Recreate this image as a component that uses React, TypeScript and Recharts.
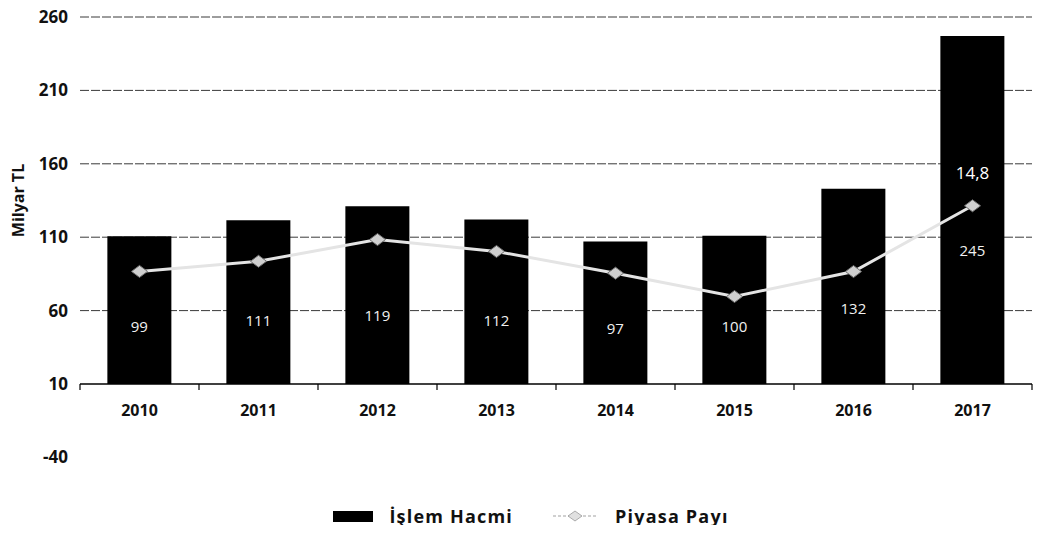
import { ComposedChart, Bar, Line, XAxis, YAxis, CartesianGrid, Legend } from "recharts";

const years = ["2010", "2011", "2012", "2013", "2014", "2015", "2016", "2017"];
// bar tops as drawn against the Milyar TL axis
const islemHacmi = [110.7, 121.6, 131, 122, 107, 111, 143, 247];
// numbers printed inside the bars
const islemHacmiEtiket = ["99", "111", "119", "112", "97", "100", "132", "245"];
// line markers as drawn against the same axis
const piyasaPayi = [86.7, 93.6, 108.4, 100.3, 85.5, 69.6, 86.6, 131.4];
const piyasaPayiEtiket = ["", "", "", "", "", "", "", "14,8"];
const yTicks = [-40, 10, 60, 110, 160, 210, 260];
const gridValues = [60, 110, 160, 210, 260];

const FONT = "'Open Sans', sans-serif";

const data = years.map((year, i) => ({
  year,
  hacim: islemHacmi[i],
  pay: piyasaPayi[i],
}));

function YearTick(props: any) {
  const { x, y, payload, index, visibleTicksCount } = props;
  const half = payload.offset ?? 59;
  const last = index === visibleTicksCount - 1;
  return (
    <g>
      <line x1={x - half} x2={x - half} y1={y} y2={y + 6} stroke="#000" strokeWidth={1.2} />
      {last && <line x1={x + half} x2={x + half} y1={y} y2={y + 6} stroke="#000" strokeWidth={1.2} />}
      <text x={x} y={y + 32} textAnchor="middle" fontFamily={FONT} fontWeight={700} fontSize={16} fill="#111">
        {payload.value}
      </text>
    </g>
  );
}

function BarValue(props: any) {
  const { x, y, width, height, index } = props;
  return (
    <text
      x={x + width / 2}
      y={y + height * 0.62}
      textAnchor="middle"
      dominantBaseline="middle"
      fontFamily={FONT}
      fontSize={15}
      fill="#f0f0f0"
    >
      {islemHacmiEtiket[index]}
    </text>
  );
}

function PayValue(props: any) {
  const { x, y, index } = props;
  const txt = piyasaPayiEtiket[index];
  if (!txt) return null;
  return (
    <text x={x} y={y - 31} textAnchor="middle" dominantBaseline="middle" fontFamily={FONT} fontSize={17} fill="#fff">
      {txt}
    </text>
  );
}

function Diamond(props: any) {
  const { cx, cy } = props;
  if (cx == null || cy == null) return null;
  return (
    <polygon
      points={`${cx - 8},${cy} ${cx},${cy - 6} ${cx + 8},${cy} ${cx},${cy + 6}`}
      fill="#cfcfcf"
      stroke="#6f6f6f"
      strokeWidth={1}
    />
  );
}

function LegendBox(props: any) {
  const items = [...(props.payload || [])].sort((a: any, b: any) => (a.type === "line" ? 1 : 0) - (b.type === "line" ? 1 : 0));
  return (
    <div style={{ display: "flex", justifyContent: "center", alignItems: "center", fontFamily: FONT, fontWeight: 700, fontSize: 18, letterSpacing: 1.2, color: "#111" }}>
      {items.map((it: any) =>
        it.type === "line" ? (
          <span key={it.value} style={{ display: "flex", alignItems: "center" }}>
            <svg width={44} height={14}>
              <line x1={0} x2={44} y1={7} y2={7} stroke="#d0d0d0" strokeWidth={2} strokeDasharray="3 2" />
              <polygon points="15,7 22,2 29,7 22,12" fill="#e0e0e0" stroke="#999" strokeWidth={0.8} />
            </svg>
            <span style={{ marginLeft: 18 }}>{it.value}</span>
          </span>
        ) : (
          <span key={it.value} style={{ display: "flex", alignItems: "center", marginRight: 40 }}>
            <span style={{ width: 40, height: 11, background: "#000", display: "inline-block" }} />
            <span style={{ marginLeft: 16 }}>{it.value}</span>
          </span>
        )
      )}
    </div>
  );
}

export default function App() {
  return (
    <div style={{ margin: -8 }}>
      <ComposedChart
        width={1054}
        height={533}
        data={data}
        margin={{ top: 17, right: 22, left: 8, bottom: 119 }}
        barCategoryGap="23%"
      >
        <CartesianGrid vertical={false} horizontalValues={gridValues} stroke="#3a3a3a" strokeDasharray="9 2" />
        <XAxis
          dataKey="year"
          height={30}
          tickSize={0}
          tickMargin={0}
          axisLine={{ stroke: "#000", strokeWidth: 1.5 }}
          tickLine={false}
          tick={<YearTick />}
          interval={0}
        />
        <YAxis
          width={72}
          domain={[10, 260]}
          ticks={yTicks}
          interval={0}
          allowDataOverflow
          axisLine={false}
          tickLine={false}
          tickSize={0}
          tickMargin={12}
          tick={{ fill: "#111", fontFamily: FONT, fontWeight: 700, fontSize: 17 }}
          label={{
            value: "Milyar TL",
            angle: -90,
            position: "insideLeft",
            offset: 10,
            style: { fill: "#111", fontFamily: FONT, fontWeight: 700, fontSize: 16, textAnchor: "middle" },
          }}
        />
        <Legend verticalAlign="middle" content={<LegendBox />} wrapperStyle={{ top: 504, left: 8, width: 1046 }} />
        <Bar dataKey="hacim" name="İşlem Hacmi" fill="#000" isAnimationActive={false} label={<BarValue />} legendType="rect" />
        <Line
          dataKey="pay"
          name="Piyasa Payı"
          stroke="#e4e4e4"
          strokeWidth={3}
          dot={<Diamond />}
          activeDot={false}
          label={<PayValue />}
          isAnimationActive={false}
          legendType="line"
        />
      </ComposedChart>
    </div>
  );
}
